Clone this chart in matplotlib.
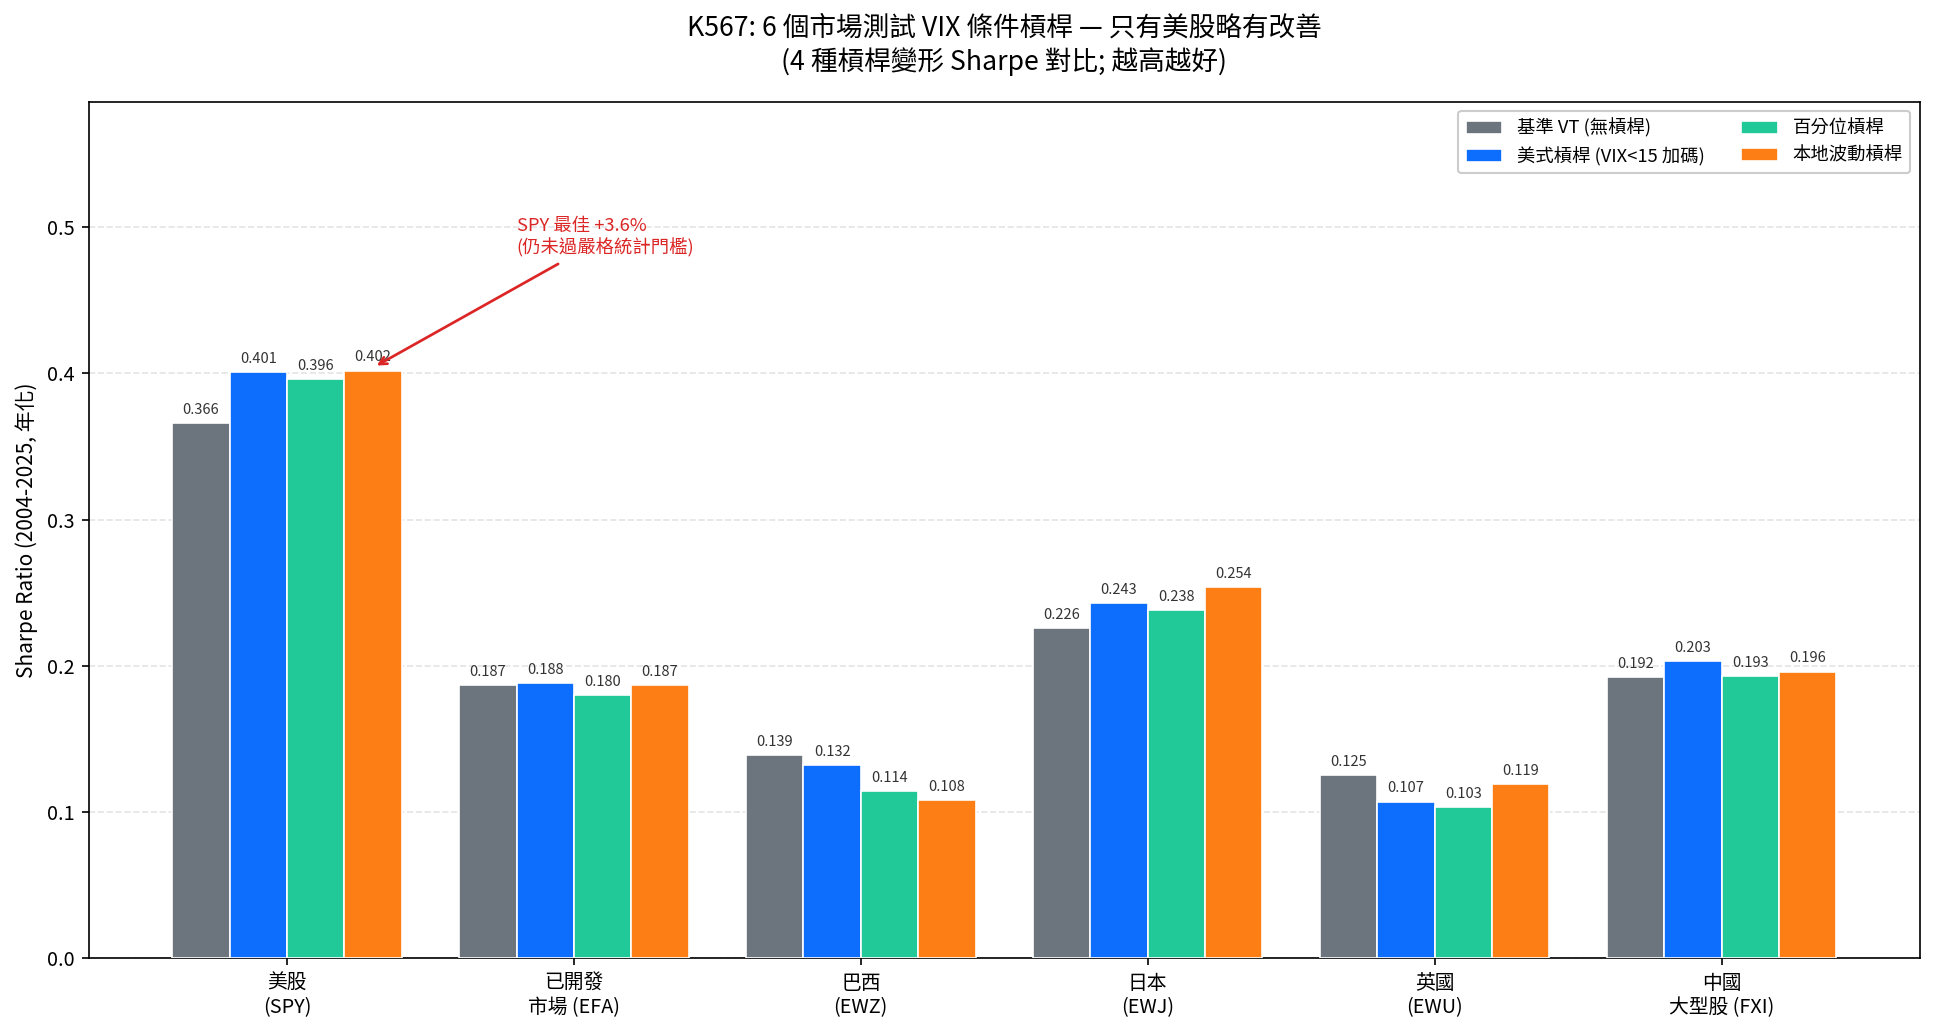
import numpy as np
import matplotlib
matplotlib.use("Agg")
from matplotlib import pyplot as plt

plt.rcParams['font.family'] = ['Noto Sans CJK TC', 'DejaVu Sans']
plt.rcParams['axes.unicode_minus'] = False

# Data
markets = ['美股\n(SPY)', '已開發\n市場 (EFA)', '巴西\n(EWZ)', '日本\n(EWJ)', '英國\n(EWU)', '中國\n大型股 (FXI)']
base_vt = [0.366, 0.187, 0.139, 0.226, 0.125, 0.192]
us_lev = [0.401, 0.188, 0.132, 0.243, 0.107, 0.203]
pct_lev = [0.396, 0.180, 0.114, 0.238, 0.103, 0.193]
local_lev = [0.402, 0.187, 0.108, 0.254, 0.119, 0.196]
series_names = ['基準 VT (無槓桿)', '美式槓桿 (VIX<15 加碼)', '百分位槓桿', '本地波動槓桿']
colors = ['#6c757d', '#0d6efd', '#20c997', '#fd7e14']


def main():
    fig = plt.figure(figsize=(12.9, 6.887), dpi=150)
    ax = fig.add_axes([0.046, 0.0726, 0.946, 0.829])

    x = np.arange(len(markets))
    width = 0.2
    allSeries = [base_vt, us_lev, pct_lev, local_lev]
    for i, (vals, name, c) in enumerate(zip(allSeries, series_names, colors)):
        pos = x + (i - 1.5) * width
        bars = ax.bar(pos, vals, width, color=c, edgecolor='white', linewidth=0.8, label=name, zorder=3)
        for b, v in zip(bars, vals):
            ax.annotate('%.3f' % v, (b.get_x() + b.get_width() / 2, v),
                        xytext=(0, 3), textcoords='offset points',
                        ha='center', va='bottom', fontsize=7, color='#333333')

    ## Annotation for SPY
    ax.annotate('SPY 最佳 +3.6%\n(仍未過嚴格統計門檻)', xy=(0.3, 0.404), xytext=(0.8, 0.493),
                ha='left', va='center', fontsize=8.8, color='#dc2626',
                arrowprops=dict(arrowstyle='->', color='#dc2626', lw=1.3))

    ax.set_xticks(x)
    ax.set_xticklabels(markets, fontsize=9.5)
    ax.set_ylim(0, 0.586)
    ax.set_yticks([0.0, 0.1, 0.2, 0.3, 0.4, 0.5])
    ax.set_yticklabels(['0.0', '0.1', '0.2', '0.3', '0.4', '0.5'], fontsize=9.5)
    ax.set_ylabel('Sharpe Ratio (2004-2025, 年化)', fontsize=10)
    ax.yaxis.grid(True, linestyle='--', color='#dddddd', alpha=0.8, zorder=0)
    ax.set_axisbelow(True)

    ax.set_title('K567: 6 個市場測試 VIX 條件槓桿 — 只有美股略有改善\n(4 種槓桿變形 Sharpe 對比; 越高越好)',
                 fontsize=12.8, pad=15, linespacing=1.25)
    ax.legend(loc='upper right', ncol=2, fontsize=8.8, framealpha=1.0)

    fig.savefig('out.png', dpi=150)


if __name__ == "__main__":
    main()
